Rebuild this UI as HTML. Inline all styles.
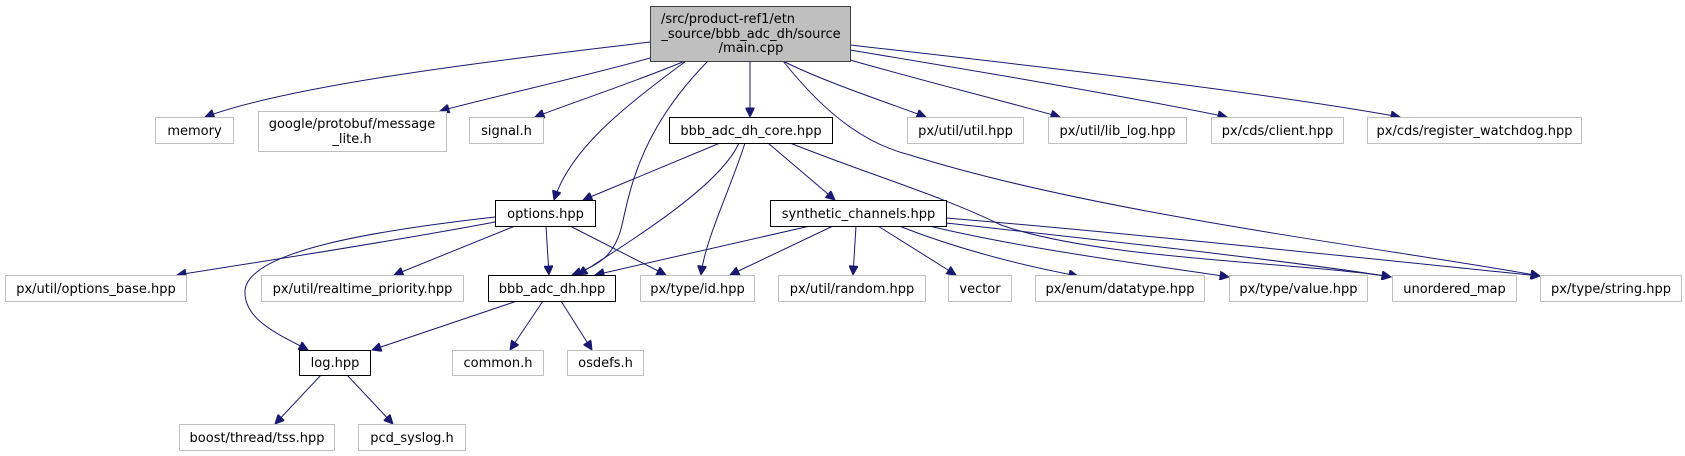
<!DOCTYPE html>
<html><head><meta charset="utf-8"><style>
html,body{margin:0;padding:0;background:#fff;}
svg{display:block}
text{font-family:"DejaVu Sans","Liberation Sans",sans-serif;font-size:13px;fill:#000;text-anchor:middle}
.g{fill:#fff;stroke:#bfbfbf;stroke-width:1}
.b{fill:#fff;stroke:#000;stroke-width:1}
path.e{fill:none;stroke:#191970;stroke-width:1}
</style></head><body>
<svg width="1685" height="456" viewBox="0 0 1685 456" xmlns="http://www.w3.org/2000/svg">
<defs><marker id="a" viewBox="0 0 10 10" refX="10" refY="5" markerWidth="11" markerHeight="9" markerUnits="userSpaceOnUse" orient="auto"><path d="M0,0 L10,5 L0,10 z" fill="#191970" stroke="#191970"/></marker></defs>
<g marker-end="url(#a)">
<path class="e" d="M650,42 C520,58 300,82 205,117"/>
<path class="e" d="M650,58 C590,75 500,95 440,111"/>
<path class="e" d="M685,61 C640,80 580,100 535,117"/>
<path class="e" d="M686,61 C620,110 570,150 554,200"/>
<path class="e" d="M708,61 C640,130 630,190 622,225 C615,255 600,265 572,275"/>
<path class="e" d="M750,61 L750,117"/>
<path class="e" d="M783,61 C820,80 880,100 926,117"/>
<path class="e" d="M850,60 C920,80 1000,100 1060,117"/>
<path class="e" d="M850,50 C970,70 1120,95 1227,117"/>
<path class="e" d="M850,45 C1000,62 1250,90 1400,117"/>
<path class="e" d="M783,61 C830,120 870,145 910,155 C1100,215 1400,250 1540,276"/>
<path class="e" d="M720,143 L583,200"/>
<path class="e" d="M739,143 C720,185 640,235 578,275"/>
<path class="e" d="M745,143 C730,190 705,240 701,275"/>
<path class="e" d="M768,143 L835,200"/>
<path class="e" d="M790,143 C870,175 940,195 1001,225 C1100,260 1300,262 1391,277"/>
<path class="e" d="M495,222 C400,240 260,262 177,275"/>
<path class="e" d="M495,217 C380,230 250,250 245,290 C243,320 280,335 308,350"/>
<path class="e" d="M515,226 L394,275"/>
<path class="e" d="M546,226 L549,275"/>
<path class="e" d="M570,226 L666,275"/>
<path class="e" d="M810,226 L595,275"/>
<path class="e" d="M833,226 L730,275"/>
<path class="e" d="M856,226 L853,275"/>
<path class="e" d="M878,226 L956,275"/>
<path class="e" d="M899,226 C960,250 1020,265 1078,276"/>
<path class="e" d="M929,226 C1030,250 1150,265 1229,277"/>
<path class="e" d="M946,223 C1100,240 1300,262 1391,277"/>
<path class="e" d="M946,218 C1150,235 1400,262 1540,276"/>
<path class="e" d="M517,301 L372,350"/>
<path class="e" d="M543,301 L510,350"/>
<path class="e" d="M561,301 L592,350"/>
<path class="e" d="M321,375 L275,424"/>
<path class="e" d="M347,375 L393,424"/>
</g>
<rect x="650.5" y="6.5" width="200" height="55" fill="#bfbfbf" stroke="#404040"/>
<text x="661" y="23" style="text-anchor:start">/src/product-ref1/etn</text>
<text x="751" y="38">_source/bbb_adc_dh/source</text>
<text x="751" y="52">/main.cpp</text>
<rect class="g" x="155.5" y="117.5" width="78" height="26"/><text x="194.5" y="135">memory</text>
<rect class="g" x="258.5" y="111.5" width="188" height="40"/><text x="352" y="128">google/protobuf/message</text><text x="352" y="143">_lite.h</text>
<rect class="g" x="469.5" y="117.5" width="74" height="26"/><text x="506.5" y="135">signal.h</text>
<rect class="b" x="669.5" y="117.5" width="163" height="26"/><text x="751" y="135">bbb_adc_dh_core.hpp</text>
<rect class="g" x="907.5" y="117.5" width="116" height="26"/><text x="965.5" y="135">px/util/util.hpp</text>
<rect class="g" x="1048.5" y="117.5" width="138" height="26"/><text x="1117.5" y="135">px/util/lib_log.hpp</text>
<rect class="g" x="1211.5" y="117.5" width="132" height="26"/><text x="1277.5" y="135">px/cds/client.hpp</text>
<rect class="g" x="1367.5" y="117.5" width="214" height="26"/><text x="1474.5" y="135">px/cds/register_watchdog.hpp</text>
<rect class="b" x="495.5" y="200.5" width="100" height="26"/><text x="545.5" y="218">options.hpp</text>
<rect class="b" x="770.5" y="200.5" width="176" height="26"/><text x="858.5" y="218">synthetic_channels.hpp</text>
<rect class="g" x="5.5" y="275.5" width="181" height="26"/><text x="96" y="293">px/util/options_base.hpp</text>
<rect class="g" x="261.5" y="275.5" width="202" height="26"/><text x="362.5" y="293">px/util/realtime_priority.hpp</text>
<rect class="b" x="488.5" y="275.5" width="127" height="26"/><text x="552" y="293">bbb_adc_dh.hpp</text>
<rect class="g" x="640.5" y="275.5" width="114" height="26"/><text x="697.5" y="293">px/type/id.hpp</text>
<rect class="g" x="778.5" y="275.5" width="147" height="26"/><text x="852" y="293">px/util/random.hpp</text>
<rect class="g" x="948.5" y="275.5" width="63" height="26"/><text x="980" y="293">vector</text>
<rect class="g" x="1035.5" y="275.5" width="169" height="26"/><text x="1120" y="293">px/enum/datatype.hpp</text>
<rect class="g" x="1229.5" y="275.5" width="138" height="26"/><text x="1298.5" y="293">px/type/value.hpp</text>
<rect class="g" x="1392.5" y="275.5" width="124" height="26"/><text x="1454.5" y="293">unordered_map</text>
<rect class="g" x="1540.5" y="275.5" width="141" height="26"/><text x="1611" y="293">px/type/string.hpp</text>
<rect class="b" x="299.5" y="350.5" width="71" height="25"/><text x="335" y="367">log.hpp</text>
<rect class="g" x="452.5" y="350.5" width="91" height="25"/><text x="498" y="367">common.h</text>
<rect class="g" x="567.5" y="350.5" width="76" height="25"/><text x="605.5" y="367">osdefs.h</text>
<rect class="g" x="179.5" y="424.5" width="155" height="26"/><text x="257" y="442">boost/thread/tss.hpp</text>
<rect class="g" x="358.5" y="424.5" width="107" height="26"/><text x="412" y="442">pcd_syslog.h</text>
</svg>
</body></html>
